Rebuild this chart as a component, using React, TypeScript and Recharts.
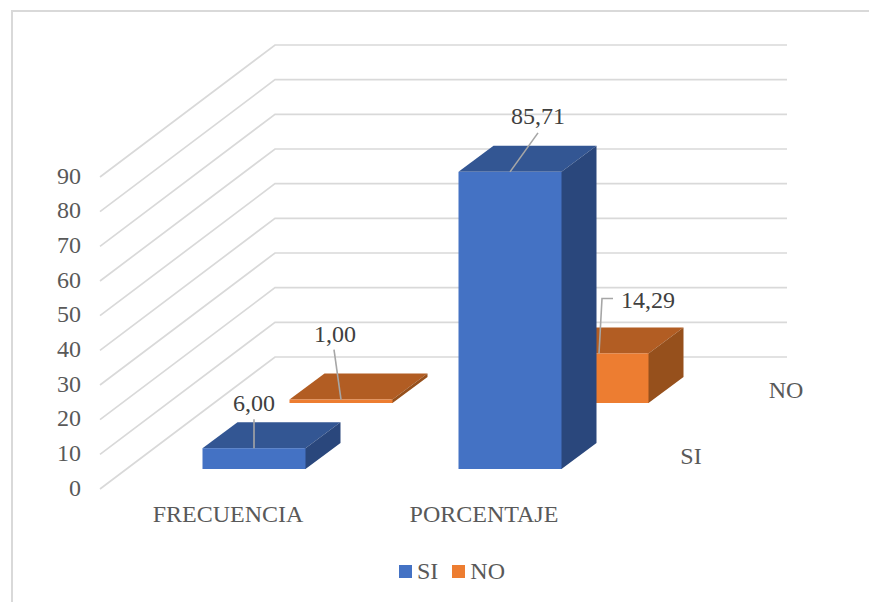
import { BarChart, Bar, XAxis, YAxis, CartesianGrid, LabelList, Legend } from "recharts";

const categories = ["FRECUENCIA", "PORCENTAJE"];
const siValues = [6.0, 85.71];
const noValues = [1.0, 14.29];
const seriesNames = ["SI", "NO"];
const yTicks = [0, 10, 20, 30, 40, 50, 60, 70, 80, 90];

const data = categories.map((name, i) => ({ name, SI: siValues[i], NO: noValues[i] }));

const FONT = "'Liberation Serif', serif";
const FONT_SIZE = 24;

// depth axis: how far each series sits behind the front edge of the floor
const SHIFT = { SI: { dx: 25.5, dy: -20 }, NO: { dx: 112.5, dy: -86 } };
const BAR_DEPTH = { dx: 35, dy: -26 };
const WALL = { dx: 175, dy: -132, right: 687 };

const COLORS = {
  SI: { front: "#4472C4", top: "#335693", side: "#2A477C" },
  NO: { front: "#ED7D31", top: "#B25D23", side: "#96501C" },
};

// leader line points and text centre, relative to the middle of the bar's top front edge
const LEADERS = {
  SI: [
    { line: [[0, 0], [0, -29]], text: [0, -45] },
    { line: [[0, 0], [28, -39]], text: [28, -56] },
  ],
  NO: [
    { line: [[0, 0], [-7, -50]], text: [-6, -66] },
    { line: [[2, 0], [5, -55], [16, -55]], text: [51, -54] },
  ],
};

function Box3D(props: any) {
  const { x, y, width, height, series } = props;
  const c = COLORS[series];
  const left = x + SHIFT[series].dx;
  const top = y + SHIFT[series].dy;
  const right = left + width;
  const bottom = top + height;
  const { dx, dy } = BAR_DEPTH;
  return (
    <g>
      <polygon points={`${left},${top} ${right},${top} ${right + dx},${top + dy} ${left + dx},${top + dy}`} fill={c.top} />
      {/* side starts under the front face so no seam shows between them */}
      <polygon points={`${right - 1},${top} ${right},${top} ${right + dx},${top + dy} ${right + dx},${bottom + dy} ${right},${bottom} ${right - 1},${bottom}`} fill={c.side} />
      <rect x={left} y={top} width={width} height={height} fill={c.front} />
    </g>
  );
}

function ValueLabel(props: any) {
  const { x, y, width, value, index, series } = props;
  const ax = x + width / 2 + SHIFT[series].dx;
  const ay = y + SHIFT[series].dy;
  const leader = LEADERS[series][index];
  return (
    <g>
      <polyline
        points={leader.line.map(([px, py]) => `${ax + px},${ay + py}`).join(" ")}
        fill="none"
        stroke="#A6A6A6"
        strokeWidth={1.6}
      />
      <text
        x={ax + leader.text[0]}
        y={ay + leader.text[1]}
        dy="0.34em"
        textAnchor="middle"
        fontFamily={FONT}
        fontSize={FONT_SIZE}
        fill="#404040"
      >
        {Number(value).toFixed(2).replace(".", ",")}
      </text>
    </g>
  );
}

// each tick draws the floor diagonal plus its line along the back wall
function WallLine(props: any) {
  const { x1, y1 } = props;
  return (
    <polyline
      key={`wall-${y1}`}
      points={`${x1},${y1} ${x1 + WALL.dx},${y1 + WALL.dy} ${x1 + WALL.right},${y1 + WALL.dy}`}
      fill="none"
      stroke="#D9D9D9"
      strokeWidth={1.7}
    />
  );
}

function SeriesLegend() {
  return (
    <div style={{ display: "flex", alignItems: "center", fontFamily: FONT, fontSize: FONT_SIZE, color: "#595959", lineHeight: "28px" }}>
      {seriesNames.map((name) => (
        <span key={name} style={{ display: "flex", alignItems: "center", marginRight: 14 }}>
          <span style={{ width: 13, height: 13, background: COLORS[name].front, marginRight: 5 }} />
          {name}
        </span>
      ))}
    </div>
  );
}

export default function App() {
  return (
    <div style={{ position: "absolute", left: 0, top: 0, width: 869, height: 602, overflow: "hidden", background: "#fff" }}>
      <div style={{ position: "absolute", left: 11, top: 10, width: 858, height: 592, borderLeft: "2px solid #D9D9D9", borderTop: "2px solid #D9D9D9" }} />
      <div style={{ position: "absolute", left: 0, top: 0 }}>
        <BarChart
          width={869}
          height={602}
          data={data}
          barSize={103}
          barGap={-103}
          margin={{ top: 177, right: 257, bottom: 83, left: 40 }}
        >
          <CartesianGrid horizontal={WallLine} vertical={false} />
          <XAxis
            dataKey="name"
            axisLine={false}
            tickLine={false}
            height={30}
            tickSize={0}
            tickMargin={16}
            interval={0}
            tick={{ fontFamily: FONT, fontSize: FONT_SIZE, fill: "#595959" }}
          />
          <YAxis
            domain={[0, 90]}
            ticks={yTicks}
            width={60}
            axisLine={false}
            tickLine={false}
            tickSize={0}
            tickMargin={19}
            interval={0}
            tick={{ fontFamily: FONT, fontSize: FONT_SIZE, fill: "#595959", dy: -2 }}
          />
          <Legend
            align="center"
            verticalAlign="middle"
            content={<SeriesLegend />}
            wrapperStyle={{ position: "absolute", left: 399, top: 557, width: 130 }}
          />
          {/* the NO row stands behind the SI row, so it is painted first */}
          <Bar dataKey="NO" isAnimationActive={false} shape={<Box3D series="NO" />}>
            <LabelList dataKey="NO" content={<ValueLabel series="NO" />} />
          </Bar>
          <Bar dataKey="SI" isAnimationActive={false} shape={<Box3D series="SI" />}>
            <LabelList dataKey="SI" content={<ValueLabel series="SI" />} />
          </Bar>
          <text x={691} y={456} dy="0.34em" textAnchor="middle" fontFamily={FONT} fontSize={FONT_SIZE} fill="#595959">SI</text>
          <text x={786} y={390} dy="0.34em" textAnchor="middle" fontFamily={FONT} fontSize={FONT_SIZE} fill="#595959">NO</text>
        </BarChart>
      </div>
    </div>
  );
}
